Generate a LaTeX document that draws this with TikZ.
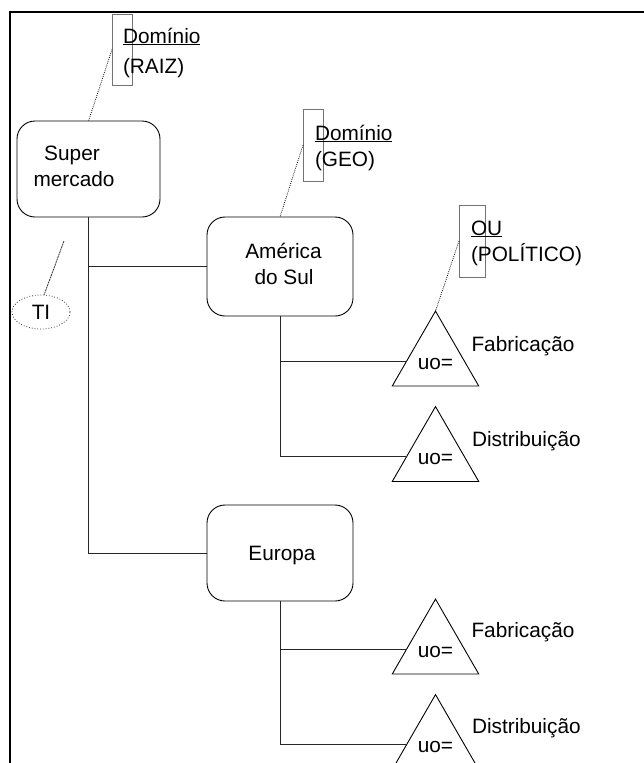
\documentclass[tikz,border=0pt]{standalone}
\usepackage{fontspec}
\setmainfont{Liberation Sans}
\usetikzlibrary{shapes.geometric}
\begin{document}
\begin{tikzpicture}[x=1pt,y=-1pt,
  txt/.style={font=\fontsize{20.8}{26}\selectfont, inner sep=0pt, outer sep=0pt},
  orgbox/.style={draw=black, line width=0.9pt, rounded corners=18pt, inner sep=0pt, outer sep=0pt},
  notebox/.style={draw=black!55, line width=1pt, inner sep=0pt, outer sep=0pt},
  ouunit/.style={regular polygon, regular polygon sides=3, minimum size=95.8pt,
    draw=black, line width=0.9pt, inner sep=0pt, outer sep=0pt,
    font=\fontsize{20.8}{26}\selectfont, text height=16pt, text depth=0pt},
  tree/.style={draw=black!85, line width=0.9pt},
  notelink/.style={draw=black, line width=0.8pt, dash pattern=on 0.8pt off 1.2pt},
  tilink/.style={draw=black!80, line width=0.8pt, dash pattern=on 2pt off 0.7pt}]

\useasboundingbox (0,0) rectangle (644,763);

% page frame (top and left edges)
\draw[line width=2.7pt] (10,763) -- (10,12) -- (644,12);

% root domain
\node[orgbox, minimum width=143pt, minimum height=96pt] (super) at (88.5,169) {};
\node[txt, anchor=base] (superl1) at (72,160) {Super};
\node[txt, anchor=base] (superl2) at (74,186) {mercado};

\node[notebox, minimum width=20pt, minimum height=71pt] (raiznote) at (122,49.5) {};
\node[txt, anchor=base west] (raizl1) at (123,43) {\underline{Domínio}};
\node[txt, anchor=base west] (raizl2) at (123,73) {(RAIZ)};

% geographic domains
\node[orgbox, minimum width=146pt, minimum height=99pt] (america) at (280,266.5) {};
\node[txt, anchor=base] (americal1) at (283.5,258) {América};
\node[txt, anchor=base] (americal2) at (284,284) {do Sul};

\node[notebox, minimum width=20pt, minimum height=72pt] (geonote) at (313,145) {};
\node[txt, anchor=base west] (geol1) at (315,140) {\underline{Domínio}};
\node[txt, anchor=base west] (geol2) at (315,166) {(GEO)};

\node[orgbox, minimum width=146pt, minimum height=96pt] (europa) at (280,553) {};
\node[txt, anchor=base] (europal) at (282,560) {Europa};

% organizational units
\node[ouunit] (tri1) at (435.5,361) {uo=};
\node[txt, anchor=base west] (tri1l) at (471.5,351) {Fabricação};
\node[ouunit] (tri2) at (435.5,456.5) {uo=};
\node[txt, anchor=base west] (tri2l) at (472,446.5) {Distribuição};
\node[ouunit] (tri3) at (435.5,649) {uo=};
\node[txt, anchor=base west] (tri3l) at (471.5,637) {Fabricação};
\node[ouunit] (tri4) at (435.5,744.5) {uo=};
\node[txt, anchor=base west] (tri4l) at (472,733) {Distribuição};

\node[notebox, minimum width=26pt, minimum height=72pt] (ounote) at (472,241) {};
\node[txt, anchor=base west] (oul1) at (471,235) {\underline{OU}};
\node[txt, anchor=base west] (oul2) at (471,261) {(POLÍTICO)};

% TI marker
\node[draw=black!80, dotted, line width=0.8pt, ellipse, minimum width=58pt, minimum height=34pt,
  txt] (ti) at (41,312) {TI};
\coordinate (tiend) at (64,241);

% hierarchy
\draw[tree] (super.south) |- (america.west);
\draw[tree] (super.south) |- (europa.west);
\draw[tree] (america.south) |- (tri1.180);
\draw[tree] (america.south) |- (tri2.180);
\draw[tree] (europa.south) |- (tri3.180);
\draw[tree] (europa.south) |- (tri4.180);

% annotation links
\draw[notelink] (raiznote.west) -- (super.north);
\draw[notelink] (geonote.west) -- (america.north);
\draw[notelink] (ounote.west) -- (tri1.corner 1);
\draw[tilink] (tiend) -- (ti.80);

\end{tikzpicture}
\end{document}
